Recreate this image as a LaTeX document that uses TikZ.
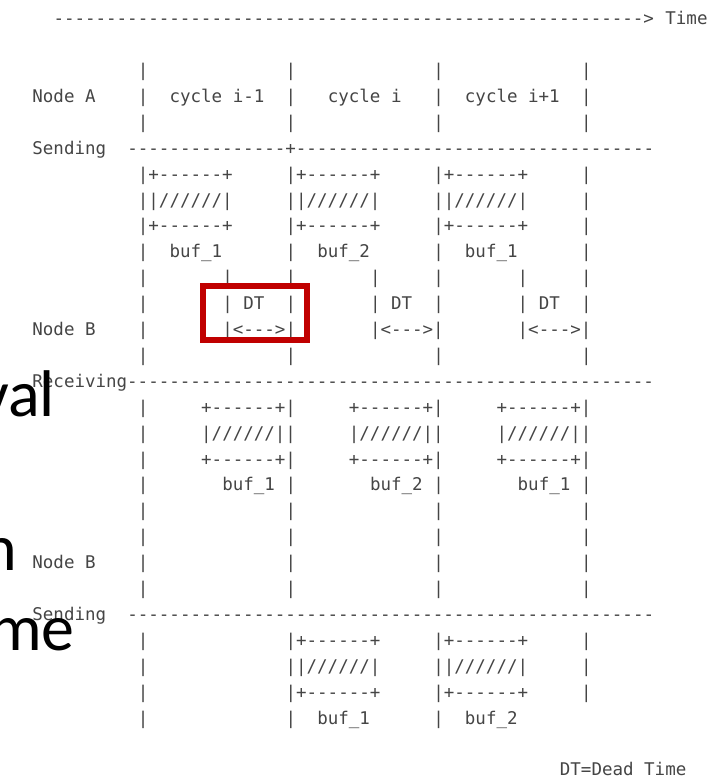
\documentclass[tikz,border=0pt]{standalone}
\usepackage{fontspec}
\setmonofont{DejaVu Sans Mono}
\newfontfamily\slidefont{Carlito}
\definecolor{asciigray}{HTML}{454545}
\definecolor{boxred}{HTML}{C00000}

\ExplSyntaxOn
\cs_new:Npn \chrun #1#2 { \prg_replicate:nn {#1} {#2} }
\ExplSyntaxOff

% one text fragment of the character grid: row, column, text
\newcommand\cellat[3]{\node[asc] (r#1c#2) at ({32.2+10.55*#2},{24.7+25.9*#1}) {#3};}

\tikzset{
  asc/.style={font=\ttfamily\fontsize{17.5}{20}\selectfont, text=asciigray,
              inner sep=0pt, anchor=base west},
  big/.style={font=\slidefont\fontsize{66}{70}\selectfont, text=black,
              inner sep=0pt, anchor=base east},
  redbox/.style={draw=boxred, line width=6pt, minimum width=104pt,
                 minimum height=54pt, inner sep=0pt}
}

\begin{document}
\begin{tikzpicture}[x=1pt,y=-1pt]
\useasboundingbox (0,0) rectangle (727,779);
\fill[white] (0,0) rectangle (727,779);

% time axis
\cellat{0}{2}{\chrun{56}{-}>}
\cellat{0}{60}{Time}

% node A cycles
\foreach \c in {10,24,38,52} {\cellat{2}{\c}{|}}
\cellat{3}{0}{Node A}
\foreach \c in {10,24,38,52} {\cellat{3}{\c}{|}}
\cellat{3}{13}{cycle i-1}
\cellat{3}{28}{cycle i}
\cellat{3}{41}{cycle i+1}
\foreach \c in {10,24,38,52} {\cellat{4}{\c}{|}}

% sending from node A
\cellat{5}{0}{Sending}
\cellat{5}{9}{\chrun{15}{-}+\chrun{34}{-}}
\foreach \c in {10,24,38} {\cellat{6}{\c}{|+------+}}
\cellat{6}{52}{|}
\foreach \c in {10,24,38} {\cellat{7}{\c}{||//////|}}
\cellat{7}{52}{|}
\foreach \c in {10,24,38} {\cellat{8}{\c}{|+------+}}
\cellat{8}{52}{|}
\foreach \c in {10,24,38,52} {\cellat{9}{\c}{|}}
\cellat{9}{13}{buf\_1}
\cellat{9}{27}{buf\_2}
\cellat{9}{41}{buf\_1}

% dead time at node B
\foreach \c in {10,18,24,32,38,46,52} {\cellat{10}{\c}{|}}
\foreach \c in {10,18,24,32,38,46,52} {\cellat{11}{\c}{|}}
\foreach \c in {20,34,48} {\cellat{11}{\c}{DT}}
\cellat{12}{0}{Node B}
\cellat{12}{10}{|}
\foreach \c in {18,32,46} {\cellat{12}{\c}{|<--{}->|}}
\foreach \c in {10,24,38,52} {\cellat{13}{\c}{|}}

% receiving at node B
\cellat{14}{0}{Receiving\chrun{50}{-}}
\cellat{15}{10}{|}
\foreach \c in {16,30,44} {\cellat{15}{\c}{+------+|}}
\cellat{16}{10}{|}
\foreach \c in {16,30,44} {\cellat{16}{\c}{|//////||}}
\cellat{17}{10}{|}
\foreach \c in {16,30,44} {\cellat{17}{\c}{+------+|}}
\foreach \c in {10,24,38,52} {\cellat{18}{\c}{|}}
\cellat{18}{18}{buf\_1}
\cellat{18}{32}{buf\_2}
\cellat{18}{46}{buf\_1}
\foreach \c in {10,24,38,52} {\cellat{19}{\c}{|}}
\foreach \c in {10,24,38,52} {\cellat{20}{\c}{|}}
\cellat{21}{0}{Node B}
\foreach \c in {10,24,38,52} {\cellat{21}{\c}{|}}
\foreach \c in {10,24,38,52} {\cellat{22}{\c}{|}}

% sending from node B
\cellat{23}{0}{Sending}
\cellat{23}{9}{\chrun{50}{-}}
\foreach \r in {24,26} {
  \cellat{\r}{10}{|}
  \cellat{\r}{24}{|+------+}
  \cellat{\r}{38}{|+------+}
  \cellat{\r}{52}{|}
}
\cellat{25}{10}{|}
\cellat{25}{24}{||//////|}
\cellat{25}{38}{||//////|}
\cellat{25}{52}{|}
\foreach \c in {10,24,38} {\cellat{27}{\c}{|}}
\cellat{27}{27}{buf\_1}
\cellat{27}{41}{buf\_2}

\cellat{29}{50}{DT=Dead Time}

% highlight of the first dead time
\node[redbox] (dtbox) at (255,313) {};

% slide words running in from the left edge
\node[big] (wval) at (55,416) {val};
\node[big] (wn) at (17.5,570) {n};
\node[big] (wme) at (75,650) {me};
\end{tikzpicture}
\end{document}
